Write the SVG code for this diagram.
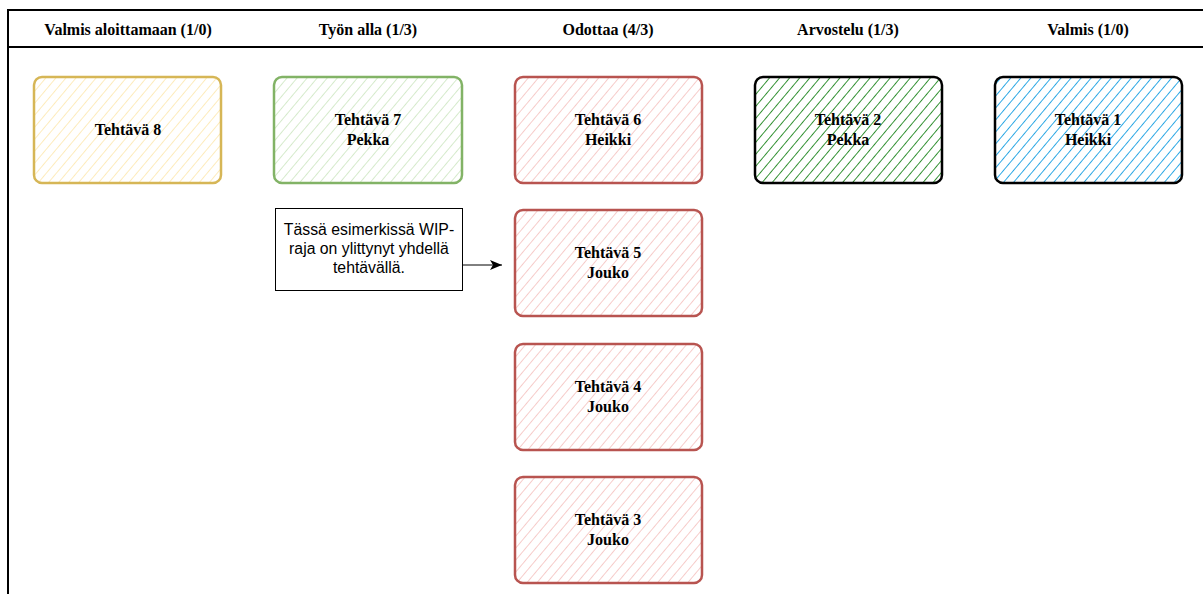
<svg xmlns="http://www.w3.org/2000/svg" width="1203" height="594" viewBox="0 0 1203 594">
  <style>
    .head { font-family: "Liberation Serif", "Times New Roman", serif; font-weight: bold; font-size: 16px; fill: #000; text-anchor: middle; }
    .card-text { font-family: "Liberation Serif", "Times New Roman", serif; font-weight: bold; font-size: 16px; fill: #000; text-anchor: middle; }
    .note-text { font-family: "Liberation Sans", Arial, sans-serif; font-size: 15.8px; fill: #000; text-anchor: middle; }
    .frame { fill: none; stroke: #000; stroke-width: 2; }
    .card { stroke-width: 2.5; }
    .yellow { fill: url(#hatch-yellow); stroke: #d6b656; }
    .green { fill: url(#hatch-green); stroke: #82b366; }
    .red { fill: url(#hatch-red); stroke: #b85450; }
    .review { fill: url(#hatch-dkgreen); stroke: #000; }
    .done { fill: url(#hatch-blue); stroke: #000; }
    .note { fill: #fff; stroke: #000; stroke-width: 1; }
    .edge { fill: none; stroke: #000; stroke-width: 1; }
  </style>
  <defs>
    <pattern id="hatch-yellow" width="7.7" height="7.7" patternUnits="userSpaceOnUse" patternTransform="rotate(40)">
      <line x1="0" y1="0" x2="0" y2="7.7" stroke="#fde7ad" stroke-width="1.6"/>
    </pattern>
    <pattern id="hatch-green" width="7.7" height="7.7" patternUnits="userSpaceOnUse" patternTransform="rotate(40)">
      <line x1="0" y1="0" x2="0" y2="7.7" stroke="#cde6c0" stroke-width="1.6"/>
    </pattern>
    <pattern id="hatch-red" width="7.7" height="7.7" patternUnits="userSpaceOnUse" patternTransform="rotate(40)">
      <line x1="0" y1="0" x2="0" y2="7.7" stroke="#f5c0be" stroke-width="1.6"/>
    </pattern>
    <pattern id="hatch-dkgreen" width="7.7" height="7.7" patternUnits="userSpaceOnUse" patternTransform="rotate(40)">
      <line x1="0" y1="0" x2="0" y2="7.7" stroke="#228822" stroke-width="1.8"/>
    </pattern>
    <pattern id="hatch-blue" width="7.7" height="7.7" patternUnits="userSpaceOnUse" patternTransform="rotate(40)">
      <line x1="0" y1="0" x2="0" y2="7.7" stroke="#1ba1e2" stroke-width="1.8"/>
    </pattern>
    <marker id="arrow" markerWidth="14" markerHeight="12" refX="12" refY="6" orient="auto" markerUnits="userSpaceOnUse">
      <path d="M0,1 L12,6 L0,11 L3,6 Z" fill="#000"/>
    </marker>
  </defs>

  <rect width="1203" height="594" fill="#fff"/>

  <!-- board frame and column headers -->
  <g id="board">
    <path class="frame" d="M8,594 L8,10 L1203,10"/>
    <line class="frame" x1="8" y1="47" x2="1203" y2="47"/>
    <text class="head" x="128" y="35">Valmis aloittamaan (1/0)</text>
    <text class="head" x="368" y="35">Työn alla (1/3)</text>
    <text class="head" x="608" y="35">Odottaa (4/3)</text>
    <text class="head" x="848" y="35">Arvostelu (1/3)</text>
    <text class="head" x="1088" y="35">Valmis (1/0)</text>
  </g>

  <g id="task8">
    <rect class="card yellow" x="34" y="77" width="187" height="106" rx="8"/>
    <text class="card-text" x="128" y="135">Tehtävä 8</text>
  </g>

  <g id="task7">
    <rect class="card green" x="274" y="77" width="188" height="106" rx="8"/>
    <text class="card-text" x="368" y="125">Tehtävä 7</text>
    <text class="card-text" x="368" y="145">Pekka</text>
  </g>

  <g id="task6">
    <rect class="card red" x="515" y="77" width="187" height="106" rx="8"/>
    <text class="card-text" x="608" y="125">Tehtävä 6</text>
    <text class="card-text" x="608" y="145">Heikki</text>
  </g>

  <g id="task5">
    <rect class="card red" x="515" y="210" width="187" height="106" rx="8"/>
    <text class="card-text" x="608" y="258">Tehtävä 5</text>
    <text class="card-text" x="608" y="278">Jouko</text>
  </g>

  <g id="task4">
    <rect class="card red" x="515" y="344" width="187" height="106" rx="8"/>
    <text class="card-text" x="608" y="392">Tehtävä 4</text>
    <text class="card-text" x="608" y="412">Jouko</text>
  </g>

  <g id="task3">
    <rect class="card red" x="515" y="477" width="187" height="106" rx="8"/>
    <text class="card-text" x="608" y="525">Tehtävä 3</text>
    <text class="card-text" x="608" y="545">Jouko</text>
  </g>

  <g id="task2">
    <rect class="card review" x="755" y="77" width="187" height="106" rx="8"/>
    <text class="card-text" x="848" y="125">Tehtävä 2</text>
    <text class="card-text" x="848" y="145">Pekka</text>
  </g>

  <g id="task1">
    <rect class="card done" x="995" y="77" width="187" height="106" rx="8"/>
    <text class="card-text" x="1088" y="125">Tehtävä 1</text>
    <text class="card-text" x="1088" y="145">Heikki</text>
  </g>

  <g id="note">
    <rect class="note" x="275.5" y="208.5" width="187" height="82"/>
    <text class="note-text" x="369" y="235">Tässä esimerkissä WIP-</text>
    <text class="note-text" x="369" y="254">raja on ylittynyt yhdellä</text>
    <text class="note-text" x="369" y="273">tehtävällä.</text>
  </g>

  <g id="connectors">
    <line class="edge" x1="462" y1="265" x2="502" y2="265" marker-end="url(#arrow)"/>
  </g>
</svg>
